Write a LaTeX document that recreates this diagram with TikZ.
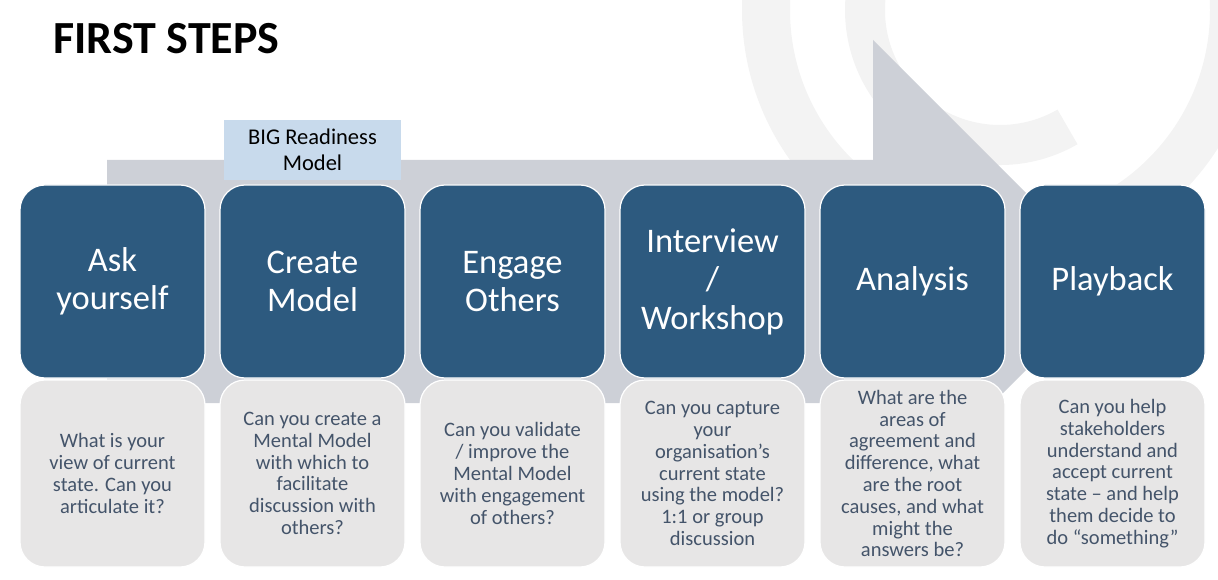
\documentclass[tikz,border=0pt]{standalone}
\usepackage{fontspec}
\setmainfont{Carlito}
\usepackage{tikz}
\usetikzlibrary{positioning}
\definecolor{stepblue}{RGB}{45,90,127}
\definecolor{askgrey}{RGB}{231,230,230}
\definecolor{asktext}{RGB}{68,84,106}
\definecolor{arrowgrey}{RGB}{205,208,215}
\definecolor{modelblue}{RGB}{200,218,236}
\definecolor{logogrey}{RGB}{243,243,243}
\tikzset{
        base/.style={draw=white, line width=1.2pt, rounded corners=25pt,
                     align=center, minimum width=185pt, inner sep=0pt,
                     outer sep=0pt},
        stepbox/.style={base, fill=stepblue, text=white, minimum height=193pt,
                        font=\fontsize{34.5}{38.5}\selectfont},
        askbox/.style={base, fill=askgrey, text=asktext, minimum height=187pt,
                       font=\fontsize{20.5}{21.8}\selectfont},
        modelbox/.style={fill=modelblue, align=center, inner sep=0pt,
                         minimum width=177pt, minimum height=60pt,
                         font=\fontsize{22.5}{26}\selectfont},
 }

\begin{document}
\begin{tikzpicture}[x=1pt, y=-1pt]
    \useasboundingbox (0,0) rectangle (1218,580);
    % faint logo behind
    \fill[logogrey, even odd rule] (1000,10) circle (258) (1000,10) circle (210);
    \fill[logogrey] (1000,10) ++(60:155) arc[start angle=60, end angle=190, radius=155]
        -- ++(10:40) arc[start angle=190, end angle=60, radius=115] -- cycle;
    % big arrow
    \fill[arrowgrey] (107,160) -- (873,160) -- (873,40) -- (1114.5,281.5)
        -- (873,523) -- (873,403) -- (107,403) -- cycle;

    \node[anchor=base west, font=\bfseries\fontsize{46}{50}\selectfont] (title) at (50,54) {FIRST STEPS};

    \node[stepbox] (s1) at (112.5,281.5) {Ask\\yourself};
    \node[stepbox, right=15pt of s1] (s2) {Create\\Model};
    \node[stepbox, right=15pt of s2] (s3) {Engage\\Others};
    \node[stepbox, right=15pt of s3] (s4) {Interview\\/\\Workshop};
    \node[stepbox, right=15pt of s4] (s5) {Analysis};
    \node[stepbox, right=15pt of s5] (s6) {Playback};

    \node[modelbox, above=5pt of s2] (m) {BIG Readiness\\Model};

    \node[askbox, below=2pt of s1] (q1) {What is your\\view of current\\state. Can you\\articulate it?};
    \node[askbox, below=2pt of s2] (q2) {Can you create a\\Mental Model\\with which to\\facilitate\\discussion with\\others?};
    \node[askbox, below=2pt of s3] (q3) {Can you validate\\/ improve the\\Mental Model\\with engagement\\of others?};
    \node[askbox, below=2pt of s4] (q4) {Can you capture\\your\\organisation’s\\current state\\using the model?\\1:1 or group\\discussion};
    \node[askbox, below=2pt of s5] (q5) {What are the\\areas of\\agreement and\\difference, what\\are the root\\causes, and what\\might the\\answers be?};
    \node[askbox, below=2pt of s6] (q6) {Can you help\\stakeholders\\understand and\\accept current\\state – and help\\them decide to\\do “something”};
\end{tikzpicture}
\end{document}
